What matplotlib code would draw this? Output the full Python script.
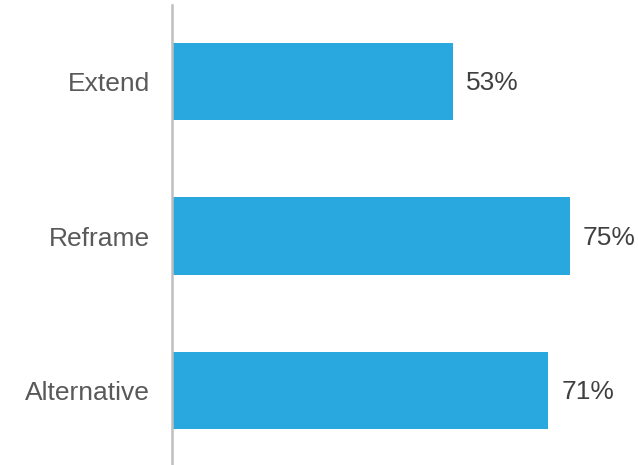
import matplotlib
matplotlib.use("Agg")
import matplotlib.pyplot as plt

categories = ["Extend", "Reframe", "Alternative"]
values = [53, 75, 71]
value_labels = ["53%", "75%", "71%"]

plt.rcParams['font.family'] = ['Liberation Sans', 'DejaVu Sans']

fig = plt.figure(figsize=(6.38, 4.65), dpi=100)
ax = fig.add_axes([172 / 638, 0.0, 1 - 172 / 638, 1 - 5 / 465])

px_per_unit = 5.30
xmax = (638 - 172) / px_per_unit
ypos = list(range(len(categories)))
ax.barh(ypos, values, height=0.5, color="#29A8E0")

spacing = 154.5
top = -(81.5 - 5) / spacing
bottom = 2 + (465 - 390.5) / spacing
ax.set_ylim(bottom, top)
ax.set_xlim(0, xmax)

for y, v, lab in zip(ypos, values, value_labels):
    ax.text(v + 13 / px_per_unit, y + 0.01, lab, va="center", ha="left",
            fontsize=19, color="#404040")

ax.set_yticks(ypos)
ax.set_yticklabels(categories, fontsize=19, color="#595959")
ax.tick_params(axis="y", length=0, pad=16)
ax.set_xticks([])
for s in ["top", "right", "bottom"]:
    ax.spines[s].set_visible(False)
ax.spines["left"].set_color("#BFBFBF")
ax.spines["left"].set_linewidth(1.8)

fig.savefig("out.png", dpi=100)
